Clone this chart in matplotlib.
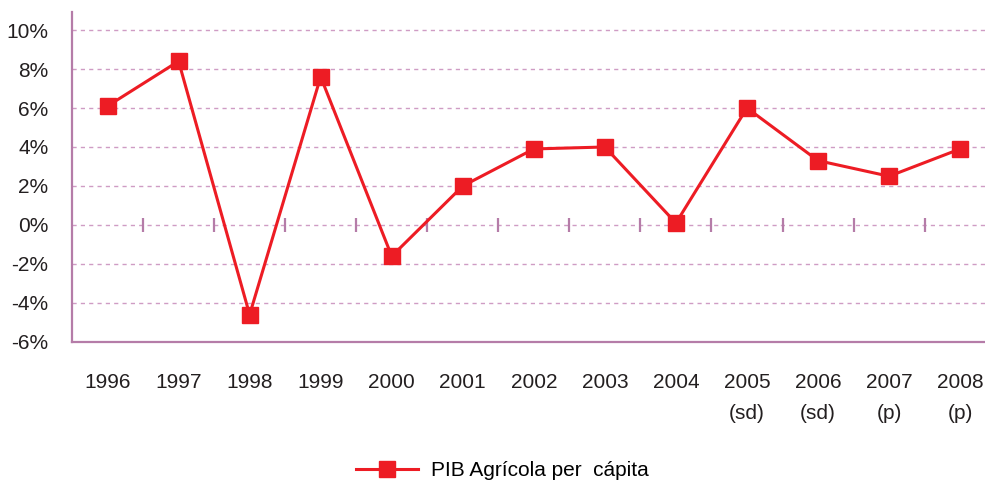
import matplotlib
matplotlib.use('Agg')
import matplotlib.pyplot as plt
import numpy as np

# PIB agricola per capita, variacion anual (%)
years = ['1996', '1997', '1998', '1999', '2000', '2001', '2002', '2003',
         '2004', '2005\n(sd)', '2006\n(sd)', '2007\n(p)', '2008\n(p)']
pib = [6.1, 8.4, -4.6, 7.6, -1.6, 2.0, 3.9, 4.0, 0.1, 6.0, 3.3, 2.5, 3.9]
yticks = [-6, -4, -2, 0, 2, 4, 6, 8, 10]

plt.rcParams['font.family'] = ['Liberation Sans', 'DejaVu Sans']

axis_col = '#b57ca8'
grid_col = '#cf9cc4'
red = '#ed1c24'

fig = plt.figure(figsize=(9.85, 4.83), dpi=100)
ax = fig.add_axes([0.0731, 0.292, 0.9269, 0.683])

x = np.arange(len(years))

# dashed grid
for v in yticks[1:]:
    ax.axhline(v, color=grid_col, lw=1, ls=(0, (3, 3)), zorder=1)

# small category ticks on the zero line
ax.plot(x[:-1] + 0.5, np.zeros(len(x) - 1), ls='none', marker='|',
        ms=10, mew=1.6, color=axis_col, zorder=2)

ax.plot(x, pib, color=red, lw=2.2, marker='s', ms=11, mec=red,
        label='PIB Agrícola per  cápita', zorder=3)

ax.set_xlim(-0.5, 12.35)
ax.set_ylim(-6, 10.92)
ax.set_yticks(yticks)
ax.set_yticklabels(['%d%%' % v for v in yticks])
ax.set_xticks(x)
ax.set_xticklabels(years, linespacing=1.8)

for s in ['top', 'right']:
    ax.spines[s].set_visible(False)
for s in ['left', 'bottom']:
    ax.spines[s].set_color(axis_col)
    ax.spines[s].set_linewidth(1.6)

ax.tick_params(axis='y', length=0, pad=17, labelsize=15, colors='#231f20')
ax.tick_params(axis='x', length=0, pad=22, labelsize=15, colors='#231f20')

fig.legend(loc='center', bbox_to_anchor=(0.51, 0.026), frameon=False,
           fontsize=15, handlelength=3.0, handletextpad=0.6)

plt.savefig('out.png', dpi=100)
